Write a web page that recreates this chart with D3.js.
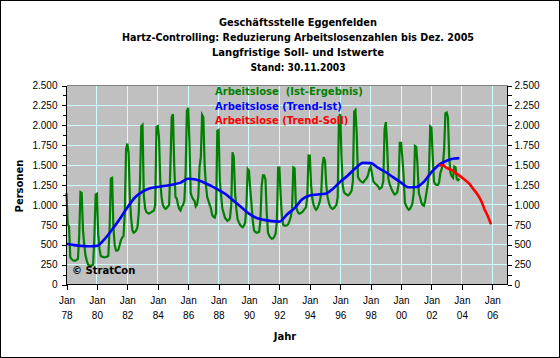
<!DOCTYPE html>
<html><head><meta charset="utf-8">
<script src="https://cdn.jsdelivr.net/npm/d3@7"></script>
<style>
body{margin:0;background:#fff}
svg{display:block}
text{font-family:"DejaVu Sans",sans-serif}
.tick text{font-family:"Liberation Sans",Arial,sans-serif;font-size:10px;fill:#000}
</style>
</head><body><svg id="c" width="560" height="358"></svg>
<script>
// ---------- data ----------
const titleLines = [
  "Geschäftsstelle Eggenfelden",
  "Hartz-Controlling: Reduzierung Arbeitslosenzahlen bis Dez. 2005",
  "Langfristige Soll- und Istwerte",
  "Stand: 30.11.2003"
];
const legendLabels = ["Arbeitslose  (Ist-Ergebnis)", "Arbeitslose (Trend-Ist)", "Arbeitslose (Trend-Soll)"];
const xTickMonth = "Jan";
const xTickYears = ["78","80","82","84","86","88","90","92","94","96","98","00","02","04","06"];
const yTickValues = [0,250,500,750,1000,1250,1500,1750,2000,2250,2500];
const yTickLabels = ["0","250","500","750","1.000","1.250","1.500","1.750","2.000","2.250","2.500"];

// Ist-Ergebnis: monthly values from Jan 1978 to Nov 2003
const istStart = "1978-01";
const istWerte = [
  1150, 760, 730, 340, 320, 305, 300, 300, 310, 320, 600,1160,  // 1978
  1150, 680, 500, 364, 300, 250, 240, 235, 240, 250, 600,1130,  // 1979
  1140, 630, 450, 360, 350, 345, 340, 345, 350, 360, 700,1330,  // 1980
  1340, 720, 500, 430, 425, 440, 500, 560, 590, 610, 900,1700,  // 1981
  1770,1650,1100, 830, 680, 650, 660, 680, 720, 900,1300,1990,  // 1982
  2006,1120, 960, 910, 900, 890, 900, 910, 920, 930,1000,1980,  // 1983
  1990,1850,1300,1100,1000, 970, 950, 960, 980,1000,1500,2100,  // 1984
  2140,1500,1100,1080,1000, 950, 930, 980,1000,1050,1400,2180,  // 1985
  2220,1800,1150,1100,1070,1050, 980,1000,1100,1480,1600,2130,  // 1986
  2100,1500,1250,1100,1050,1000, 950, 870, 850, 840, 900,1930,  // 1987
  1940,1300,1118, 950, 900, 840, 820, 800, 810, 830,1000,1660,  // 1988
  1600,1160, 950, 820, 780, 750, 730, 720, 740, 780,1000,1450,  // 1989
  1430,1200,1010, 800, 680, 660, 650, 655, 660, 800,1240,1370,  // 1990
  1370,1320, 900, 650, 610, 590, 575, 580, 600, 640, 800,1470,  // 1991
  1470,1118, 850, 750, 740, 740, 745, 760, 800, 850, 950,1470,  // 1992
  1460,1000, 930, 900, 890, 900, 910, 930, 950, 970,1100,1620,  // 1993
  1620,1250,1080,1000, 960, 940, 960,1000,1050,1150,1500,1600,  // 1994
  1550,1250,1100,1030, 980, 960, 950, 960, 980,1000,1100,2100,  // 1995
  2140,1600,1240,1160,1140,1130,1120,1130,1150,1180,1300,2170,  // 1996
  2190,1900,1350,1320,1300,1290,1280,1300,1320,1340,1380,1450,  // 1997
  1480,1400,1300,1280,1260,1250,1230,1200,1210,1230,1300,1950,  // 1998
  2040,1750,1330,1260,1220,1180,1150,1130,1140,1160,1250,1780,  // 1999
  1780,1600,1370,1030, 990, 960, 940, 950, 980,1020,1150,1740,  // 2000
  1730,1500,1150,1100,1030,1000, 990,1050,1150,1250,1400,1985,  // 2001
  1970,1600,1290,1260,1250,1250,1280,1400,1450,1500,1700,2150,  // 2002
  2160,2100,1600,1400,1360,1340,1480,1470,1320,1310,1330        // 2003
];

// Trend-Ist
const trendIstMonate = [
  "1978-01","1978-07","1979-01","1979-07","1980-01","1980-07","1981-01","1981-07",
  "1982-01","1982-07","1983-01","1983-07","1984-01","1984-07","1985-01","1985-07",
  "1986-01","1986-07","1987-01","1987-07","1988-01","1988-07","1989-01","1989-07",
  "1990-01","1990-07","1991-01","1991-07","1992-01","1992-07","1993-01","1993-07",
  "1994-01","1994-07","1995-01","1995-07","1996-01","1996-07","1997-01","1997-07",
  "1998-01","1998-07","1999-01","1999-07","2000-01","2000-07","2001-01","2001-07",
  "2002-01","2002-07","2003-01","2003-07","2003-11"
];
const trendIstWerte = [
  511, 495, 485, 480, 485, 570, 690, 823,
  966,1093,1168,1210,1225,1240,1256,1280,
  1328,1320,1285,1240,1190,1130,1050, 970,
  890, 835, 812, 796, 790, 880, 960,1070,
  1118,1130,1139,1200,1290,1370,1460,1528,
  1525,1465,1410,1345,1280,1222,1225,1290,
  1411,1505,1555,1583,1588
];

// Trend-Soll
const trendSollMonate = [
  "2002-07","2002-10","2003-01","2003-04","2003-07","2003-10","2004-01","2004-04",
  "2004-07","2004-10","2005-01","2005-04","2005-07","2005-10","2005-12"
];
const trendSollWerte = [1495,1500,1466,1445,1415,1380,1345,1306,1265,1200,1139,1059,940,840,755];

// ---------- drawing ----------
const svg = d3.select("#c");
const W = 560, H = 358;
const L = 66.5, R = 507.5, T = 85.5, B = 284.5;

const monthIndex = s => { const [yy,mm] = s.split("-").map(Number); return (yy-1978)*12 + (mm-1); };

const x = d3.scaleLinear().domain([0, 348]).range([L, R]);
const y = d3.scaleLinear().domain([0, 2500]).range([B, T]);

svg.append("rect").attr("x",0.5).attr("y",0.5).attr("width",W-1).attr("height",H-1)
  .attr("fill","#fff").attr("stroke","#000");

// plot area
svg.append("rect").attr("x",L).attr("y",T).attr("width",R-L).attr("height",B-T).attr("fill","#c0c0c0");

const crisp = v => Math.round(v - 0.5) + 0.5;
const xTickPos = xTickYears.map((d,i) => i*24);

// grid
const grid = svg.append("g").attr("stroke","#ccffff").attr("stroke-width",1).attr("shape-rendering","crispEdges");
grid.selectAll("line.h").data(yTickValues.filter(v => v>0 && v<2500)).join("line")
  .attr("x1",L).attr("x2",R).attr("y1",d=>crisp(y(d))).attr("y2",d=>crisp(y(d)));
grid.selectAll("line.v").data(xTickPos.filter(v => v>0)).join("line")
  .attr("y1",T).attr("y2",B).attr("x1",d=>crisp(x(d))).attr("x2",d=>crisp(x(d)));

svg.append("line").attr("x1",L).attr("x2",R).attr("y1",T).attr("y2",T)
  .attr("stroke","#808080").attr("shape-rendering","crispEdges");

// series
const ist = istWerte.map((v,i) => ({m: monthIndex(istStart)+i, v}));
const tIst = trendIstMonate.map((s,i) => ({m: monthIndex(s), v: trendIstWerte[i]}));
const tSoll = trendSollMonate.map((s,i) => ({m: monthIndex(s), v: trendSollWerte[i]}));

const line = d3.line().x(d=>x(d.m)).y(d=>y(d.v));
const smooth = d3.line().x(d=>x(d.m)).y(d=>y(d.v)).curve(d3.curveMonotoneX);

svg.append("path").datum(ist).attr("d",line).attr("fill","none")
  .attr("stroke","#008000").attr("stroke-width",2.2).attr("stroke-linejoin","miter");
svg.append("path").datum(tIst).attr("d",smooth).attr("fill","none")
  .attr("stroke","#0000ff").attr("stroke-width",2.6);
svg.append("path").datum(tSoll).attr("d",smooth).attr("fill","none")
  .attr("stroke","#ff0000").attr("stroke-width",2.6);

// axes
const fmt = (d) => yTickLabels[yTickValues.indexOf(d)];
const minor = d3.range(0, 2501, 125);

const la = svg.append("g").attr("transform",`translate(${L},0)`)
  .call(d3.axisLeft(y).tickValues(yTickValues).tickFormat(fmt).tickSize(5).tickPadding(4));
svg.append("g").attr("transform",`translate(${L},0)`)
  .call(d3.axisLeft(y).tickValues(minor).tickFormat("").tickSize(4)).select(".domain").remove();
const ra = svg.append("g").attr("transform",`translate(${R},0)`)
  .call(d3.axisRight(y).tickValues(yTickValues).tickFormat(fmt).tickSize(4).tickPadding(3));
svg.append("g").attr("transform",`translate(${R},0)`)
  .call(d3.axisRight(y).tickValues(minor).tickFormat("").tickSize(4)).select(".domain").remove();

const xa = svg.append("g").attr("transform",`translate(0,${B})`)
  .call(d3.axisBottom(x).tickValues(xTickPos).tickFormat("").tickSize(5));
xa.selectAll(".tick").append("text").attr("fill","#000").attr("text-anchor","middle")
  .each(function(d,i){
    const t = d3.select(this);
    t.append("tspan").attr("x",0).attr("y",19).text(xTickMonth);
    t.append("tspan").attr("x",0).attr("y",34).text(xTickYears[i]);
  });

svg.selectAll(".domain").attr("stroke","#000").attr("shape-rendering","crispEdges");
svg.selectAll(".tick line").attr("stroke","#000").attr("shape-rendering","crispEdges");
la.select(".domain").attr("d",`M0,${T}V${B}`);
ra.select(".domain").attr("d",`M0,${T}V${B}`);
xa.select(".domain").attr("d",`M${L},0H${R}`);

// titles
const titleWidths = [158, 352, null, 95];
const tg = svg.append("g").attr("font-weight","bold").attr("font-size","10px").attr("text-anchor","middle");
titleLines.forEach((t,i) => {
  const el = tg.append("text").attr("x",298).attr("y",25.5 + i*15).text(t);
  if (titleWidths[i]) el.attr("textLength",titleWidths[i]).attr("lengthAdjust","spacingAndGlyphs");
});

// legend
const legColors = ["#008000","#0000ff","#ff0000"];
legendLabels.forEach((t,i) => svg.append("text").attr("x",215).attr("y",95 + i*14.5)
  .attr("font-weight","bold").attr("font-size","10px").attr("fill",legColors[i])
  .style("white-space","pre").text(t));

// axis titles
svg.append("text").attr("x",285).attr("y",340).attr("text-anchor","middle")
  .attr("font-weight","bold").attr("font-size","10px").text("Jahr");
svg.append("text").attr("transform","translate(23,186) rotate(-90)").attr("text-anchor","middle")
  .attr("font-weight","bold").attr("font-size","10px").text("Personen");

// copyright
svg.append("text").attr("x",72).attr("y",274).attr("font-weight","bold").attr("font-size","10px").text("© StratCon");
</script>
</body></html>
